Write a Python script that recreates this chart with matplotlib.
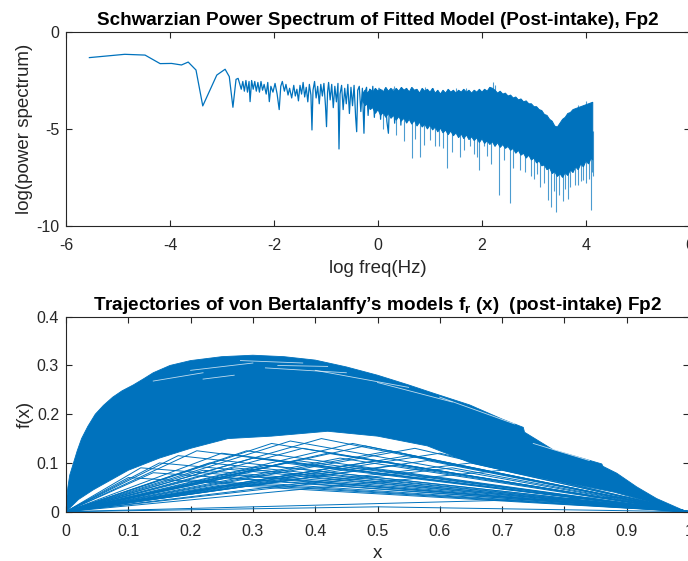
import numpy as np
import matplotlib
matplotlib.use("Agg")
import matplotlib.pyplot as plt

plt.rcParams['font.family'] = ['Liberation Sans', 'DejaVu Sans']
plt.rcParams['mathtext.fontset'] = 'custom'
plt.rcParams['mathtext.rm'] = 'Liberation Sans:bold'
plt.rcParams['mathtext.it'] = 'Liberation Sans:bold'
plt.rcParams['mathtext.bf'] = 'Liberation Sans:bold'
plt.rcParams['axes.unicode_minus'] = False

BLUE = '#0072BD'
DARK = '#262626'

# ---------------- top panel data: log power spectrum ----------------
spec_logf = [-5.55, -4.87, -4.48, -4.19, -3.97, -3.78, -3.65, -3.50, -3.37, -3.10,
             -2.94, -2.86, -2.79, -2.73, -2.69, -2.63,
             -2.60, -2.57, -2.54, -2.51, -2.48, -2.46, -2.43, -2.40, -2.37, -2.34,
             -2.31, -2.28, -2.25, -2.22, -2.19, -2.15, -2.12, -2.09, -2.06, -2.02,
             -1.98, -1.94, -1.90, -1.87, -1.84, -1.80, -1.77, -1.73, -1.70, -1.66,
             -1.62, -1.59, -1.56, -1.53, -1.50, -1.47, -1.44, -1.41, -1.38, -1.35,
             -1.32, -1.29, -1.27, -1.25, -1.22, -1.19, -1.16, -1.13, -1.10, -1.07,
             -1.04, -1.01, -0.99, -0.97,
             -0.95, -0.92, -0.89, -0.86, -0.83, -0.80, -0.77, -0.75, -0.73, -0.70,
             -0.67, -0.64, -0.61, -0.58, -0.55, -0.52, -0.49, -0.46, -0.43, -0.41,
             -0.39, -0.36, -0.33, -0.30, -0.27, -0.25, -0.22, -0.19, -0.16, -0.13,
             -0.10, -0.07, -0.04, -0.01, 0.02, 0.05, 0.08, 0.11, 0.14, 0.17,
             0.20, 0.23, 0.26, 0.29, 0.32, 0.35, 0.38, 0.41, 0.44, 0.47,
             0.50, 0.53, 0.56, 0.59]
spec_val = [-1.32, -1.15, -1.19, -1.63, -1.62, -1.70, -1.55, -1.96, -3.81, -2.22,
            -1.92, -2.30, -3.88, -2.44, -2.39, -2.95,
            -2.55, -3.05, -2.50, -3.10, -2.55, -3.59, -2.50, -2.95, -2.55, -3.05,
            -2.60, -3.10, -2.55, -3.00, -2.70, -3.20, -2.60, -3.59, -2.80, -3.10,
            -2.65, -3.20, -4.00, -2.80, -2.55, -3.05, -2.70, -3.25, -2.90, -3.40,
            -2.75, -3.30, -2.95, -3.55, -2.75, -3.20, -2.60, -3.35, -2.85, -3.60,
            -2.70, -3.25, -5.05, -3.00, -2.55, -3.40, -2.80, -3.70, -2.70, -3.30,
            -2.65, -3.80, -4.88, -3.10,
            -2.60, -3.50, -2.70, -3.90, -2.80, -3.60, -2.65, -6.03, -3.20, -2.75,
            -4.00, -2.90, -3.70, -2.70, -4.20, -2.85, -3.80, -2.75, -4.40, -5.14,
            -3.00, -2.80, -4.10, -2.90, -5.22, -3.10, -2.85, -4.30, -2.95, -3.90,
            -2.80, -4.40, -3.00, -4.00, -2.90, -4.50, -3.00, -4.20, -2.95, -4.60,
            -5.22, -3.10, -4.30, -2.95, -4.70, -3.00, -4.40, -3.05, -4.80, -3.00,
            -4.50, -3.10, -4.60, -3.05]

# dense high-frequency band (upper / lower edges of the solid region)
band_logf = [-0.30, -0.25, -0.20, -0.15, -0.10, -0.05, 0.00, 0.05, 0.10, 0.15,
             0.20, 0.25, 0.30, 0.35, 0.40, 0.45, 0.50, 0.55, 0.60, 0.65,
             0.70, 0.75, 0.80, 0.85, 0.90, 0.95, 1.00, 1.05, 1.10, 1.15,
             1.20, 1.25, 1.30, 1.35, 1.40, 1.45, 1.50, 1.55, 1.60, 1.65,
             1.70, 1.75, 1.80, 1.85, 1.90, 1.95, 2.00, 2.05, 2.10, 2.15,
             2.20, 2.25, 2.30, 2.35, 2.40, 2.45, 2.50, 2.55, 2.60, 2.65,
             2.70, 2.75, 2.80, 2.85, 2.90, 2.95, 3.00, 3.05, 3.10, 3.15,
             3.20, 3.25, 3.30, 3.35, 3.40, 3.45, 3.50, 3.55, 3.60, 3.65,
             3.70, 3.75, 3.80, 3.85, 3.90, 3.95, 4.00, 4.05, 4.10, 4.13]
band_hi = [-3.20, -3.00, -3.15, -2.95, -3.10, -2.90, -3.05, -2.95, -3.10, -2.85,
           -3.05, -2.90, -3.10, -2.90, -3.05, -2.85, -3.00, -2.90, -3.10, -2.85,
           -3.00, -2.95, -3.15, -2.90, -3.05, -2.95, -3.10, -2.90, -3.15, -3.00,
           -3.20, -3.00, -3.15, -2.95, -3.10, -3.00, -3.15, -3.00, -3.10, -2.95,
           -3.10, -3.00, -3.15, -3.00, -3.10, -2.95, -3.10, -2.95, -3.05, -2.85,
           -2.90, -3.00, -3.15, -3.05, -3.20, -3.15, -3.30, -3.25, -3.40, -3.35,
           -3.50, -3.45, -3.60, -3.55, -3.70, -3.70, -3.85, -3.85, -4.00, -4.05,
           -4.25, -4.30, -4.50, -4.60, -4.85, -4.90, -4.70, -4.50, -4.40, -4.20,
           -4.15, -4.00, -3.95, -3.90, -3.85, -3.80, -3.75, -3.70, -3.65, -3.62]
band_lo = [-3.50, -3.80, -3.70, -4.00, -3.90, -4.20, -4.00, -4.30, -4.15, -4.40,
           -4.20, -4.45, -4.30, -4.55, -4.35, -4.60, -4.40, -4.70, -4.50, -4.75,
           -4.55, -4.85, -4.65, -4.90, -4.75, -5.00, -4.80, -5.05, -4.90, -5.15,
           -4.95, -5.20, -5.05, -5.30, -5.10, -5.35, -5.20, -5.45, -5.25, -5.50,
           -5.30, -5.55, -5.40, -5.60, -5.45, -5.70, -5.50, -5.75, -5.60, -5.80,
           -5.65, -5.90, -5.70, -5.95, -5.80, -6.00, -5.90, -6.10, -6.00, -6.25,
           -6.10, -6.35, -6.25, -6.50, -6.35, -6.60, -6.50, -6.75, -6.65, -6.90,
           -6.85, -7.10, -7.00, -7.30, -7.20, -7.45, -7.30, -7.50, -7.25, -7.40,
           -7.10, -7.25, -6.95, -7.10, -6.80, -6.95, -6.65, -6.80, -6.50, -6.60]

# isolated spikes sticking out of the band
spike_logf = [0.65, 0.81, 1.0, 1.1, 1.18, 1.33, 1.58, 1.77, 1.90, 1.95, 2.03, 2.33,
              2.53, 2.73, 2.95, 3.12, 3.27, 3.33, 3.42, 3.55, 3.70, 3.85, 3.95,
              4.05, 4.09, 4.13, 0.10, 0.35, 0.50, 0.72, 0.88, 1.25, 1.42, 1.65,
              1.85, 2.10, 2.18, 2.42, 2.60, 2.82, 3.00, 3.05, 3.20, 3.38, 3.48,
              3.60, 3.65, 3.78, 3.90, 4.00, 4.11,
              0.9, 1.5, 2.22, 2.25, 1.05, 3.85, 4.0, 0.3, 1.7]
spike_val = [-6.51, -6.43, -5.57, -5.9, -5.9, -7.03, -6.43, -5.9, -6.43, -7.11,
             -5.9, -8.40, -8.80, -7.11, -7.4, -7.97, -8.66, -9.0, -9.26, -8.7,
             -8.0, -7.9, -7.63, -7.6, -9.18, -7.4, -5.0, -5.3, -5.6, -5.5, -5.8,
             -6.0, -6.2, -6.1, -6.3, -6.4, -6.8, -6.6, -7.0, -7.2, -7.6, -7.3,
             -7.8, -8.2, -8.4, -8.1, -8.6, -7.9, -7.7, -7.8, -7.2,
             -2.85, -2.9, -2.6, -2.75, -2.9, -3.75, -3.55, -2.8, -2.9]

# ---------------- bottom panel data: von Bertalanffy trajectories ----------------
traj_up_x = [0, 0.001, 0.003, 0.006, 0.012, 0.018, 0.025, 0.035, 0.047, 0.06,
             0.075, 0.09, 0.108, 0.125, 0.14, 0.167, 0.2, 0.25, 0.3, 0.35, 0.4,
             0.45, 0.5, 0.55, 0.59, 0.648, 0.7, 0.734, 0.736, 0.782, 0.86, 0.862,
             0.884, 0.916, 0.948, 0.996]
traj_up_y = [0, 0.025, 0.05, 0.075, 0.10, 0.125, 0.15, 0.175, 0.20, 0.218,
             0.235, 0.248, 0.26, 0.273, 0.285, 0.30, 0.31, 0.318, 0.321, 0.318,
             0.311, 0.297, 0.280, 0.260, 0.243, 0.219, 0.19, 0.173, 0.163, 0.127,
             0.098, 0.093, 0.079, 0.051, 0.027, 0.0]
traj_lo_x = [0, 0.02, 0.044, 0.1, 0.15, 0.2, 0.26, 0.33, 0.42, 0.5, 0.58, 0.65,
             0.72, 0.8, 0.88, 0.95, 0.996]
traj_lo_y = [0, 0.025, 0.045, 0.085, 0.11, 0.13, 0.15, 0.155, 0.165, 0.155, 0.135,
             0.1, 0.08, 0.06, 0.04, 0.015, 0]
# apex points of the individual chords below the dense region
chord_x = [0.25, 0.30, 0.35, 0.28, 0.40, 0.22, 0.45, 0.35, 0.50, 0.30, 0.42, 0.55,
           0.25, 0.38, 0.48, 0.60, 0.33, 0.90, 0.50, 0.20, 0.62,
           0.27, 0.32, 0.37, 0.44, 0.52, 0.29, 0.36, 0.41, 0.46, 0.56, 0.23,
           0.31, 0.47, 0.53, 0.58, 0.65, 0.70, 0.26, 0.39,
           0.12, 0.15, 0.18, 0.21, 0.10, 0.14]
chord_y = [0.055, 0.060, 0.065, 0.075, 0.080, 0.085, 0.095, 0.100, 0.105, 0.110,
           0.120, 0.115, 0.120, 0.130, 0.135, 0.120, 0.140, 0.030, 0.010, 0.065,
           0.090,
           0.090, 0.095, 0.105, 0.110, 0.125, 0.125, 0.145, 0.150, 0.140, 0.130,
           0.100, 0.085, 0.090, 0.095, 0.105, 0.100, 0.085, 0.070, 0.070,
           0.090, 0.100, 0.115, 0.125, 0.070, 0.080]
# light gaps between trajectories inside the dense region (x0, y0, x1, y1)
gap_x0 = [0.14, 0.20, 0.28, 0.32, 0.40, 0.50, 0.60, 0.66, 0.75, 0.22, 0.34]
gap_y0 = [0.268, 0.290, 0.310, 0.295, 0.290, 0.265, 0.235, 0.215, 0.140, 0.272, 0.300]
gap_x1 = [0.22, 0.30, 0.38, 0.45, 0.55, 0.62, 0.72, 0.73, 0.84, 0.27, 0.42]
gap_y1 = [0.285, 0.305, 0.305, 0.285, 0.255, 0.225, 0.180, 0.185, 0.105, 0.280, 0.298]

fig = plt.figure(figsize=(6.88, 5.61), dpi=100)

def style(ax):
    for s in ax.spines.values():
        s.set_color(DARK)
        s.set_linewidth(0.8)
    ax.tick_params(direction='in', top=True, right=True, colors=DARK,
                   labelsize=11.5, length=4, width=0.8, pad=5)
    ax.tick_params(axis='x', pad=8.5)

# ---- top
ax1 = fig.add_axes([66/688, 1-226/561, 624/688, 194/561])
ax1.fill(band_logf + band_logf[::-1], band_hi + band_lo[::-1], color=BLUE, lw=0.7,
         ec=BLUE)
ax1.plot(spec_logf, spec_val, color=BLUE, lw=0.9)
mid = (np.interp(spike_logf, band_logf, band_hi) + np.interp(spike_logf, band_logf, band_lo)) / 2
ax1.vlines(spike_logf, mid, spike_val, color=BLUE, lw=0.8, alpha=0.7)
ax1.set_xlim(-6, 6)
ax1.set_ylim(-10, 0)
ax1.set_xticks([-6, -4, -2, 0, 2, 4, 6])
ax1.set_yticks([-10, -5, 0])
style(ax1)
ax1.set_xlabel('log freq(Hz)', fontsize=13.5, color=DARK, labelpad=5)
ax1.set_ylabel('log(power spectrum)', fontsize=13.5, color=DARK, labelpad=2)
ax1.set_title('Schwarzian Power Spectrum of Fitted Model (Post-intake), Fp2',
              fontsize=13.6, fontweight='bold', color='black', pad=5)

# ---- bottom
ax2 = fig.add_axes([66/688, 1-511.7/561, 623/688, 195/561])
ax2.fill(traj_up_x + traj_lo_x[::-1], traj_up_y + traj_lo_y[::-1], color=BLUE,
         lw=0.6, ec=BLUE)
for cx, cy in zip(chord_x, chord_y):
    ax2.plot([0.0, cx, 1.0], [0.0, cy, 0.0], color=BLUE, lw=0.7)
for a, b, c, d in zip(gap_x0, gap_y0, gap_x1, gap_y1):
    ax2.plot([a, c], [b, d], color='white', lw=0.6, alpha=0.75)
ax2.set_xlim(0, 1)
ax2.set_ylim(0, 0.4)
ax2.set_xticks([0, 0.1, 0.2, 0.3, 0.4, 0.5, 0.6, 0.7, 0.8, 0.9, 1.0])
ax2.set_xticklabels(['0', '0.1', '0.2', '0.3', '0.4', '0.5', '0.6', '0.7', '0.8',
                     '0.9', '1'])
ax2.set_yticks([0, 0.1, 0.2, 0.3, 0.4])
ax2.set_yticklabels(['0', '0.1', '0.2', '0.3', '0.4'])
style(ax2)
ax2.set_xlabel('x', fontsize=13.5, color=DARK, labelpad=5)
ax2.set_ylabel('f(x)', fontsize=13.5, color=DARK, labelpad=2)
ax2.set_title('Trajectories of von Bertalanffy\u2019s models $\\mathrm{f_r}$ (x)  (post-intake) Fp2',
              fontsize=13.6, fontweight='bold', color='black', pad=5)

fig.savefig('out.png', dpi=100)
